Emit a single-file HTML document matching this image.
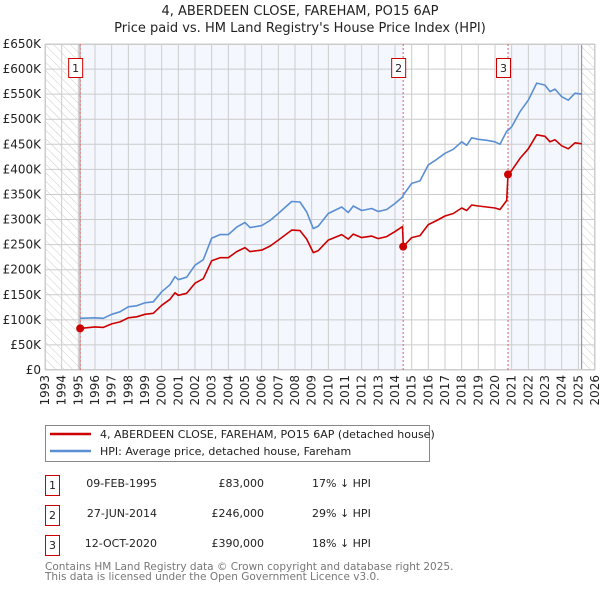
<!DOCTYPE html>
<html><head><meta charset="utf-8"><style>
body{margin:0;background:#fff;font-family:"DejaVu Sans","Liberation Sans",sans-serif;}
svg text{font-family:"DejaVu Sans","Liberation Sans",sans-serif;}
</style></head><body>
<svg id="chart" width="600" height="590" xmlns="http://www.w3.org/2000/svg">
<defs><pattern id="hatch" width="6" height="6" patternUnits="userSpaceOnUse" patternTransform="rotate(-45)"><line x1="0" y1="0" x2="0" y2="6" stroke="#ccc" stroke-width="1"/></pattern></defs>
<text x="300" y="15" text-anchor="middle" font-size="13" fill="#222">4, ABERDEEN CLOSE, FAREHAM, PO15 6AP</text>
<text x="300" y="32" text-anchor="middle" font-size="13" fill="#222">Price paid vs. HM Land Registry's House Price Index (HPI)</text>
<g id="plot"></g>
<g>
<rect x="45.5" y="425.5" width="384" height="36" fill="#fff" stroke="#888"/>
<line x1="50" y1="434" x2="91" y2="434" stroke="#cc0000" stroke-width="2.5"/>
<text x="100" y="438" font-size="11" fill="#222">4, ABERDEEN CLOSE, FAREHAM, PO15 6AP (detached house)</text>
<line x1="50" y1="451" x2="91" y2="451" stroke="#5b8fd4" stroke-width="2.5"/>
<text x="100" y="455" font-size="11" fill="#222">HPI: Average price, detached house, Fareham</text>
</g>
<g font-size="11" fill="#222">
<rect x="45.5" y="475.5" width="14" height="20" fill="#fff" stroke="#cc0000"/><text x="52.5" y="489" text-anchor="middle">1</text>
<text x="157" y="487" text-anchor="end">09-FEB-1995</text><text x="264" y="487" text-anchor="end">£83,000</text><text x="312" y="487">17% ↓ HPI</text>
<rect x="45.5" y="505.5" width="14" height="20" fill="#fff" stroke="#cc0000"/><text x="52.5" y="519" text-anchor="middle">2</text>
<text x="157" y="517" text-anchor="end">27-JUN-2014</text><text x="264" y="517" text-anchor="end">£246,000</text><text x="312" y="517">29% ↓ HPI</text>
<rect x="45.5" y="535.5" width="14" height="20" fill="#fff" stroke="#cc0000"/><text x="52.5" y="549" text-anchor="middle">3</text>
<text x="157" y="547" text-anchor="end">12-OCT-2020</text><text x="264" y="547" text-anchor="end">£390,000</text><text x="312" y="547">18% ↓ HPI</text>
</g>
<text x="45" y="570" font-size="10.5" fill="#777">Contains HM Land Registry data © Crown copyright and database right 2025.</text>
<text x="45" y="580" font-size="10.5" fill="#777">This data is licensed under the Open Government Licence v3.0.</text>
</svg>
<script>
const hpiDates=[1995.1,1996,1996.5,1997,1997.5,1998,1998.5,1999,1999.5,2000,2000.5,2000.8,2001,2001.5,2002,2002.5,2003,2003.5,2004,2004.5,2005,2005.3,2006,2006.5,2007,2007.8,2008.3,2008.7,2009.1,2009.4,2010,2010.8,2011.2,2011.5,2012,2012.6,2013,2013.5,2014,2014.45,2014.5,2015,2015.5,2016,2016.5,2017,2017.5,2018,2018.3,2018.6,2019,2019.5,2020,2020.3,2020.7,2020.78,2021,2021.5,2022,2022.5,2023,2023.3,2023.6,2024,2024.4,2024.8,2025.2];
const hpiValues=[103,104,103,111,116,126,128,134,136,156,170,186,180,185,209,220,263,270,270,285,294,284,288,298,312,336,335,315,282,287,312,325,314,327,318,322,316,320,332,345,349,372,377,409,420,432,440,455,448,463,460,458,455,450,476,478,485,515,538,572,568,555,560,545,538,552,550];
const priceValues=[83,86,85,92,96,104,106,111,113,129,141,154,149,153,173,182,218,224,224,236,244,236,239,247,259,279,278,261,234,238,259,270,261,271,264,267,262,266,276,286,246,264,268,290,298,307,312,323,318,329,327,325,323,320,338,390,398,422,441,469,466,455,459,447,441,453,451];
const saleDates=[1995.11,2014.49,2020.78];
const saleValues=[83,246,390];
const saleLabels=["1","2","3"];
const yTicks=[0,50,100,150,200,250,300,350,400,450,500,550,600,650];
const yTickLabels=["£0","£50K","£100K","£150K","£200K","£250K","£300K","£350K","£400K","£450K","£500K","£550K","£600K","£650K"];
const xYears=[1993,1994,1995,1996,1997,1998,1999,2000,2001,2002,2003,2004,2005,2006,2007,2008,2009,2010,2011,2012,2013,2014,2015,2016,2017,2018,2019,2020,2021,2022,2023,2024,2025,2026];

const L=45,R=595,T=44,B=370;
const x=v=>L+(v-1993)/(2026-1993)*(R-L);
const y=v=>B-v/650*(B-T);
const NS="http://www.w3.org/2000/svg";
const g=document.getElementById('plot');
function mk(tag,attrs,parent){const e=document.createElementNS(NS,tag);for(const k in attrs)e.setAttribute(k,attrs[k]);(parent||g).appendChild(e);return e;}

let e;
e=mk('rect',{x:L,y:T,width:R-L,height:B-T,fill:'#fff'});


e=mk('rect',{x:L,y:T,width:x(1995.1)-L,height:B-T,fill:'url(#hatch)'});


e=mk('rect',{x:x(1995.11),y:T,width:x(2014.49)-x(1995.11),height:B-T,fill:'#f4f7fe'});


e=mk('rect',{x:x(2020.78),y:T,width:x(2025.2)-x(2020.78),height:B-T,fill:'#f4f7fe'});


e=mk('rect',{x:x(2025.2),y:T,width:R-x(2025.2),height:B-T,fill:'url(#hatch)'});



yTicks.forEach((t,i)=>{
  e=mk('line',{x1:L,x2:R,y1:y(t),y2:y(t),stroke:'#ccc','stroke-width':1});
  
  
  e=mk('text',{x:L-4,y:y(t)+4,'text-anchor':'end','font-size':12,fill:'#222'});
  e.textContent=yTickLabels[i];
  
  
});
xYears.forEach(yr=>{
  e=mk('line',{x1:x(yr),x2:x(yr),y1:T,y2:B,stroke:'#ccc','stroke-width':1});
  
  
  e=mk('text',{x:0,y:0,'text-anchor':'end','font-size':12,fill:'#222',transform:`translate(${x(yr)+4},${B+5}) rotate(-90)`});
  e.textContent=yr;
  
  
});
e=mk('line',{x1:x(1995.1),x2:x(1995.1),y1:T,y2:B,stroke:'#888','stroke-width':1});


e=mk('line',{x1:x(2025.2),x2:x(2025.2),y1:T,y2:B,stroke:'#888','stroke-width':1});


e=mk('rect',{x:L+0.5,y:T+0.5,width:R-L-1,height:B-T-1,fill:'none',stroke:'#ccc'});



saleDates.forEach((d,i)=>{
  e=mk('line',{x1:x(d),x2:x(d),y1:T,y2:B,stroke:'#e06060','stroke-width':1,'stroke-dasharray':'2,2'});
  
  
});

const pts=(vals)=>hpiDates.map((d,i)=>x(d).toFixed(1)+','+y(vals[i]).toFixed(1)).join(' ');
e=mk('polyline',{points:pts(hpiValues),fill:'none',stroke:'#5b8fd4','stroke-width':1.6,'stroke-linejoin':'round'});


e=mk('polyline',{points:pts(priceValues),fill:'none',stroke:'#cc0000','stroke-width':1.6,'stroke-linejoin':'round'});



saleDates.forEach((d,i)=>{
  e=mk('circle',{cx:x(d),cy:y(saleValues[i]),r:4,fill:'#cc0000'});
  
  
  e=mk('rect',{x:x(d)-11.5,y:58.5,width:14,height:19,fill:'#fff',stroke:'#cc0000'});
  
  
  e=mk('text',{x:x(d)-4.5,y:72,'text-anchor':'middle','font-size':11,fill:'#222'});
  e.textContent=saleLabels[i];
  
  
});
</script>
</body></html>
